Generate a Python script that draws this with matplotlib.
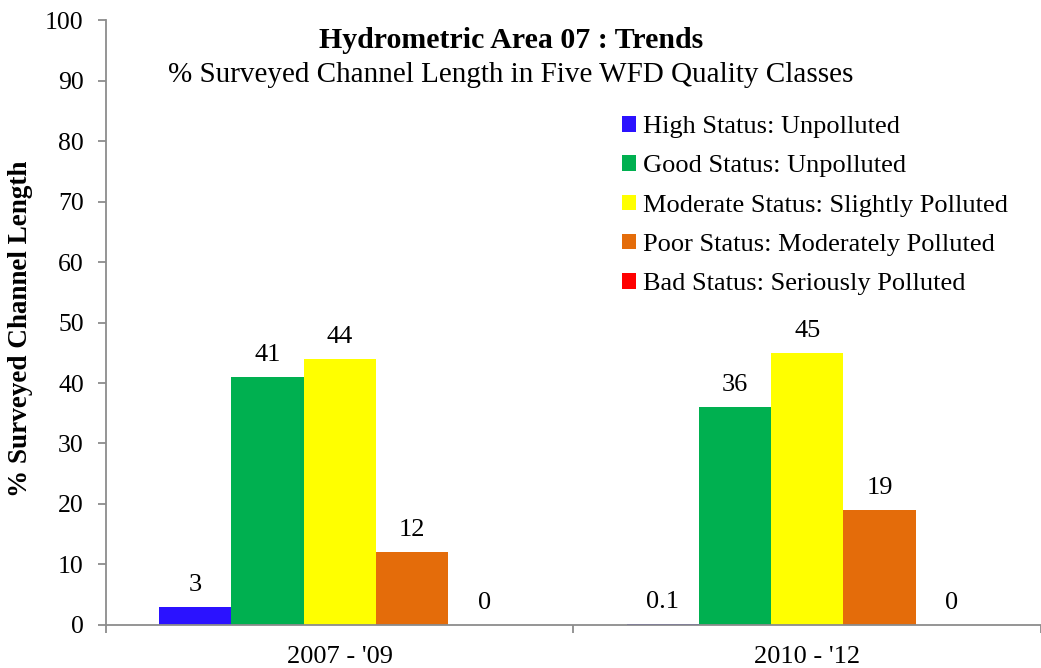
import matplotlib
matplotlib.use("Agg")
import matplotlib.pyplot as plt
import numpy as np

plt.rcParams['font.family'] = ['Liberation Serif', 'DejaVu Serif']

# % surveyed channel length per WFD quality class
periods = ["2007 - '09", "2010 - '12"]
classes = [
    'High Status: Unpolluted',
    'Good Status: Unpolluted',
    'Moderate Status: Slightly Polluted',
    'Poor Status: Moderately Polluted',
    'Bad Status: Seriously Polluted',
]
high = [3, 0.1]
good = [41, 36]
moderate = [44, 45]
poor = [12, 19]
bad = [0, 0]
colors = ['#2B12FF', '#00B050', '#FFFF00', '#E46C0A', '#FF0000']

series = [high, good, moderate, poor, bad]
grey = '#8C8C8C'

fig = plt.figure(figsize=(10.41, 6.68), dpi=100)
ax = fig.add_axes([0.1018, 0.0644, 0.8982, 0.9056])

x = np.arange(len(periods))
w = 0.1545
for i, (vals, name, c) in enumerate(zip(series, classes, colors)):
    bars = ax.bar(x + (i - 2) * w, vals, w, color=c, label=name)
    ax.bar_label(bars, labels=[f'{v:g}' for v in vals], padding=8, fontsize=19)

ax.set_xlim(-0.5, 1.5)
ax.set_ylim(0, 100)
ax.set_yticks(range(0, 101, 10))
ax.set_xticks(x)
ax.set_xticklabels(periods)
ax.set_xticks([-0.5, 0.5, 1.5], minor=True)
ax.tick_params(axis='x', which='major', length=0, pad=15, labelsize=19)
ax.tick_params(axis='x', which='minor', length=6, color=grey, width=1.3)
ax.tick_params(axis='y', length=6, color=grey, width=1.3, pad=10, labelsize=18.5)

for s in ['top', 'right']:
    ax.spines[s].set_visible(False)
for s in ['left', 'bottom']:
    ax.spines[s].set_color(grey)
    ax.spines[s].set_linewidth(1.3)

ax.set_ylabel('% Surveyed Channel Length', fontsize=19.5, fontweight='bold')
ax.yaxis.set_label_coords(-0.078, 0.489)

fig.text(0.491, 0.94, 'Hydrometric Area 07 : Trends', ha='center', va='center',
         fontsize=21.5, fontweight='bold')
fig.text(0.491, 0.888, '% Surveyed Channel Length in Five WFD Quality Classes',
         ha='center', va='center', fontsize=21)

ax.legend(loc='upper left', bbox_to_anchor=(0.585, 0.846), bbox_transform=fig.transFigure,
          frameon=False, fontsize=19, handlelength=0.53, handleheight=0.53,
          handletextpad=0.25, labelspacing=0.65, borderpad=0)

fig.savefig('out.png', dpi=100)
